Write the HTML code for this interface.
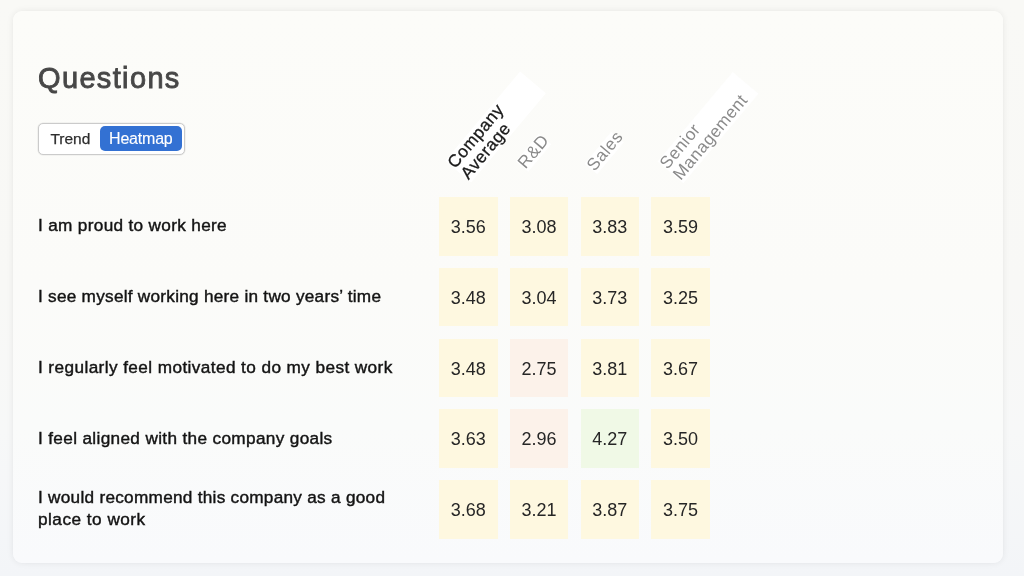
<!DOCTYPE html>
<html><head><meta charset="utf-8">
<style>
html,body{margin:0;padding:0;}
body{width:1024px;height:576px;overflow:hidden;position:relative;
 background:linear-gradient(180deg,#f9f9f6 0%,#f8f8f6 50%,#f7f8f8 75%,#f3f5f8 100%);
 font-family:"Liberation Sans",Arial,sans-serif;}
.card{position:absolute;left:13px;top:11px;width:990px;height:552px;border-radius:9px;
 background:linear-gradient(180deg,#fcfcf9 0%,#fbfbf9 50%,#fafbfa 75%,#f9fafc 100%);
 box-shadow:0 0 7px rgba(0,0,0,0.07),0 0 1px rgba(0,0,0,0.04);}
.title{position:absolute;left:38px;top:63.5px;font-size:29px;line-height:29px;color:#474747;letter-spacing:1.35px;-webkit-text-stroke:0.85px #474747;}
.toggle{position:absolute;left:38px;top:123px;width:145px;height:30px;border:1px solid #cbcbcb;border-radius:5px;background:#fff;box-shadow:0 0 0 0.6px rgba(0,0,0,0.07);}
.toggle .t{position:absolute;left:11.4px;top:5.8px;font-size:15.5px;color:#2e2e2e;-webkit-text-stroke:0.25px #2e2e2e;}
.toggle .h{position:absolute;left:60.8px;top:2.2px;width:82px;height:25.3px;border-radius:5px;background:#3371d3;color:#fff;font-size:16px;line-height:25.3px;text-align:center;-webkit-text-stroke:0.12px #fff;letter-spacing:-0.2px;}
.lbl{position:absolute;left:38px;font-size:17.2px;color:#131313;line-height:22.2px;-webkit-text-stroke:0.42px #131313;}
.cell{position:absolute;width:58.6px;height:58.6px;font-size:18px;color:#262626;text-align:center;line-height:61.4px;}
.y{background:#fef8e0;}
.p{background:#fcf2ea;}
.g{background:#f0f9e6;}
</style></head><body>
<div class="card"></div>
<div class="title">Questions</div>
<div class="toggle"><span class="t">Trend</span><div class="h">Heatmap</div></div>

<svg class="hdr" width="1024" height="576" style="position:absolute;left:0;top:0;">
<g font-family="Liberation Sans, Arial, sans-serif" font-size="17.2" letter-spacing="0.5">
<g transform="rotate(-50 455.15 169.18)"><rect x="455.15" y="156.18" width="116.5" height="33.70" fill="#ffffff"/><g fill="#1a1a1a" stroke="#1a1a1a" stroke-width="0.3"><text x="455.15" y="169.18">Company</text><text x="455.15" y="186.48">Average</text></g></g>
<g transform="rotate(-50 525.60 169.60)"><rect x="525.60" y="156.60" width="36" height="16.40" fill="#ffffff"/><g fill="#8a8a8a" ><text x="525.60" y="169.60">R&amp;D</text></g></g>
<g transform="rotate(-50 594.50 172.00)"><rect x="594.50" y="159.00" width="41.5" height="16.40" fill="#ffffff"/><g fill="#8a8a8a" ><text x="594.50" y="172.00">Sales</text></g></g>
<g transform="rotate(-50 667.50 169.98)"><rect x="667.50" y="156.98" width="117" height="33.70" fill="#ffffff"/><g fill="#8a8a8a" ><text x="667.50" y="169.98">Senior</text><text x="667.50" y="187.28">Management</text></g></g>
</g></svg>
<div class="lbl" style="top:214.1px;letter-spacing:0.326px;">I am proud to work here</div>
<div class="lbl" style="top:284.9px;letter-spacing:0.261px;">I see myself working here in two years’ time</div>
<div class="lbl" style="top:355.7px;letter-spacing:0.41px;">I regularly feel motivated to do my best work</div>
<div class="lbl" style="top:426.5px;letter-spacing:0.343px;">I feel aligned with the company goals</div>
<div class="lbl" style="top:485.9px;letter-spacing:0.274px;">I would recommend this company as a good<br><span style="letter-spacing:0.49px">place to work</span></div>

<div class="cell y" style="left:439px;top:197px;">3.56</div>
<div class="cell y" style="left:509.75px;top:197px;">3.08</div>
<div class="cell y" style="left:580.5px;top:197px;">3.83</div>
<div class="cell y" style="left:651.25px;top:197px;">3.59</div>

<div class="cell y" style="left:439px;top:267.8px;">3.48</div>
<div class="cell y" style="left:509.75px;top:267.8px;">3.04</div>
<div class="cell y" style="left:580.5px;top:267.8px;">3.73</div>
<div class="cell y" style="left:651.25px;top:267.8px;">3.25</div>

<div class="cell y" style="left:439px;top:338.6px;">3.48</div>
<div class="cell p" style="left:509.75px;top:338.6px;">2.75</div>
<div class="cell y" style="left:580.5px;top:338.6px;">3.81</div>
<div class="cell y" style="left:651.25px;top:338.6px;">3.67</div>

<div class="cell y" style="left:439px;top:409.4px;">3.63</div>
<div class="cell p" style="left:509.75px;top:409.4px;">2.96</div>
<div class="cell g" style="left:580.5px;top:409.4px;">4.27</div>
<div class="cell y" style="left:651.25px;top:409.4px;">3.50</div>

<div class="cell y" style="left:439px;top:480.2px;">3.68</div>
<div class="cell y" style="left:509.75px;top:480.2px;">3.21</div>
<div class="cell y" style="left:580.5px;top:480.2px;">3.87</div>
<div class="cell y" style="left:651.25px;top:480.2px;">3.75</div>
</body></html>
